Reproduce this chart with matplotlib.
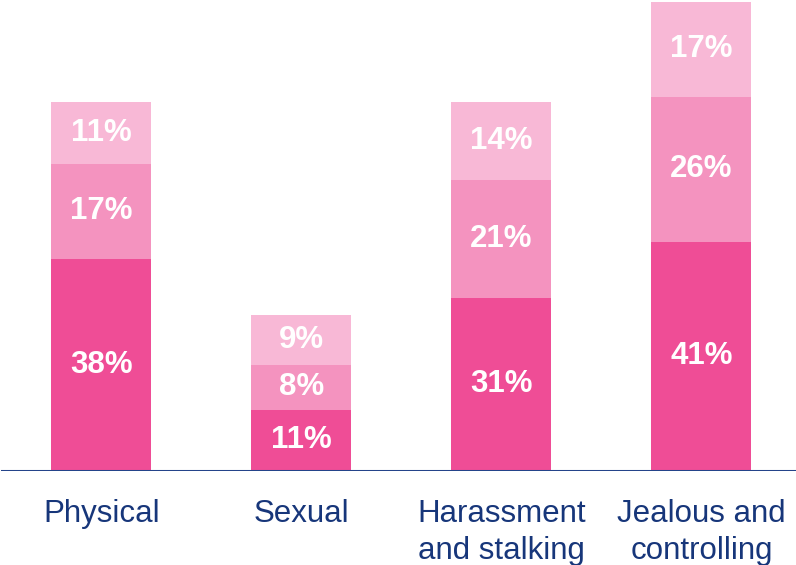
import numpy as np
import matplotlib.pyplot as plt

plt.rcParams['font.family'] = ['Liberation Sans', 'DejaVu Sans']

categories = ["Physical", "Sexual", "Harassment\nand stalking", "Jealous and\ncontrolling"]
bottom_vals = [38, 11, 31, 41]
middle_vals = [17, 8, 21, 26]
top_vals = [11, 9, 14, 17]

colors = ["#EF4D96", "#F493BF", "#F8B8D6"]
navy = "#17367A"

fig = plt.figure(figsize=(7.96, 5.65), dpi=100)
ax = fig.add_axes([0, 0.1664, 1, 0.8336])

x = np.arange(len(categories))
base = np.zeros(len(categories))
for vals, col in zip([bottom_vals, middle_vals, top_vals], colors):
    vals = np.array(vals, dtype=float)
    ax.bar(x, vals, width=0.5, bottom=base, color=col, edgecolor='none')
    for xi, b, v in zip(x, base, vals):
        ax.text(xi, b + v / 2, f"{int(v)}%", ha='center', va='center',
                color='white', fontsize=22.5, fontweight='bold')
    base += vals

for xi, name in zip(x, categories):
    ax.text(xi, -4.95, name, ha='center', va='top', color=navy,
            fontsize=22.5, linespacing=1.3, clip_on=False)

ax.axhline(0, xmin=0.003, xmax=1, color="#24448A", lw=2.2)
ax.set_xlim(-0.5075, 3.4725)
ax.set_ylim(0, 84.3)
ax.axis('off')

fig.savefig("out.png", dpi=100)
